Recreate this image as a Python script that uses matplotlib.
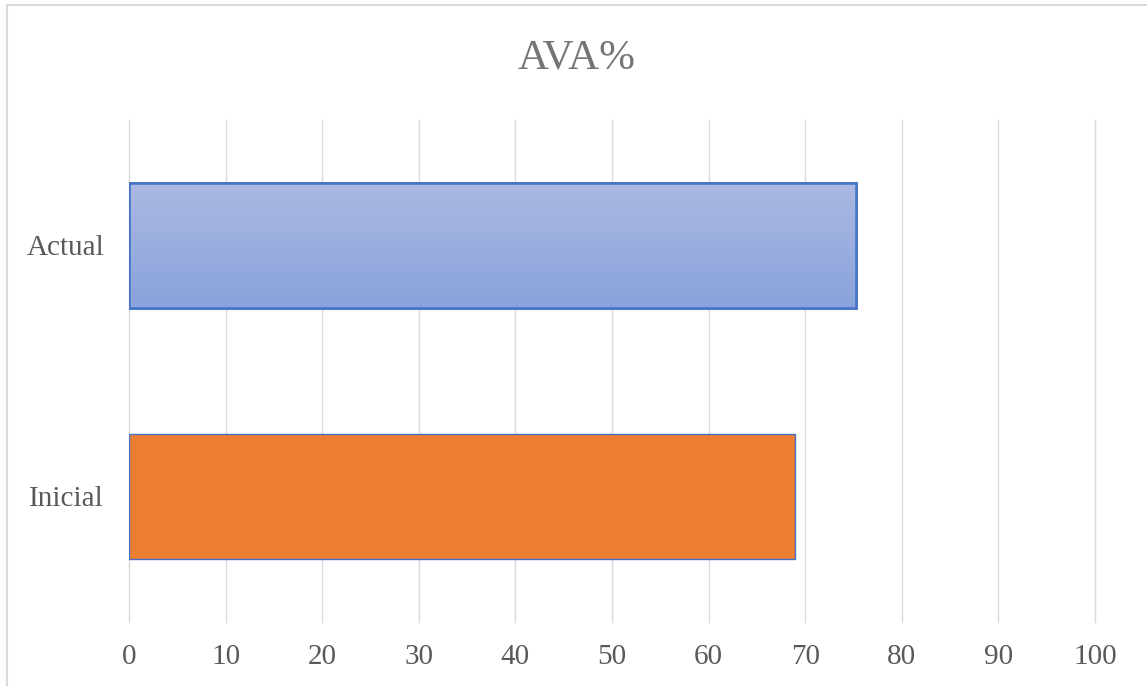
import matplotlib

matplotlib.use("Agg")
import matplotlib.pyplot as plt
from matplotlib.lines import Line2D
import numpy as np

categories = ["Inicial", "Actual"]
values = [68.9, 75.3]
title = "AVA%"
x_ticks = [0, 10, 20, 30, 40, 50, 60, 70, 80, 90, 100]

plt.rcParams["font.family"] = ["Liberation Serif", "DejaVu Serif"]
text_color = "#595959"

fig = plt.figure(figsize=(11.47, 6.86), dpi=100)
ax = fig.add_axes([129 / 1147, 1 - 622 / 686, (1095 - 129) / 1147, (622 - 120) / 686])

y = np.arange(len(categories))
bars = ax.barh(y, values, height=0.5, color=["#ed7d31", "#9aaedf"],
               edgecolor="#4472c4", linewidth=[1.0, 1.8], zorder=3)

# gradient fill for the "Actual" bar
grad_bar = bars[1]
bx, by = grad_bar.get_x(), grad_bar.get_y()
bw, bh = grad_bar.get_width(), grad_bar.get_height()
grad = np.linspace(0, 1, 256).reshape(-1, 1)
cmap = matplotlib.colors.LinearSegmentedColormap.from_list("g", ["#8aa3dc", "#aab9e2"])
im = ax.imshow(grad, extent=(bx, bx + bw, by, by + bh), origin="lower",
               aspect="auto", cmap=cmap, zorder=3.5)
im.set_clip_path(grad_bar)
ax.barh([y[1]], [values[1]], height=0.5, fill=False, edgecolor="#4472c4",
        linewidth=1.8, zorder=4)

ax.set_xlim(0, 100)
ax.set_ylim(-0.5, 1.5)
ax.set_xticks(x_ticks)
ax.set_yticks(y)
ax.set_yticklabels(categories)
ax.xaxis.grid(True, color="#d9d9d9", linewidth=1.0, zorder=0)
for gl in ax.get_xgridlines():
    gl.set_clip_on(False)
ax.set_axisbelow(True)
for s in ax.spines.values():
    s.set_visible(False)
ax.tick_params(axis="both", length=0, colors=text_color, labelsize=21)
ax.tick_params(axis="x", pad=16)
ax.tick_params(axis="y", pad=18, labelsize=21)

fig.text(0.503, 1 - 58 / 686, title, ha="center", va="center", fontsize=31, color="#757575")

# chart border (left and top edges visible)
fig.add_artist(Line2D([7 / 1147, 7 / 1147], [0, 1 - 5 / 686], color="#d9d9d9", lw=1.5))
fig.add_artist(Line2D([7 / 1147, 1], [1 - 5 / 686, 1 - 5 / 686], color="#d9d9d9", lw=1.5))

fig.savefig("out.png", dpi=100)
